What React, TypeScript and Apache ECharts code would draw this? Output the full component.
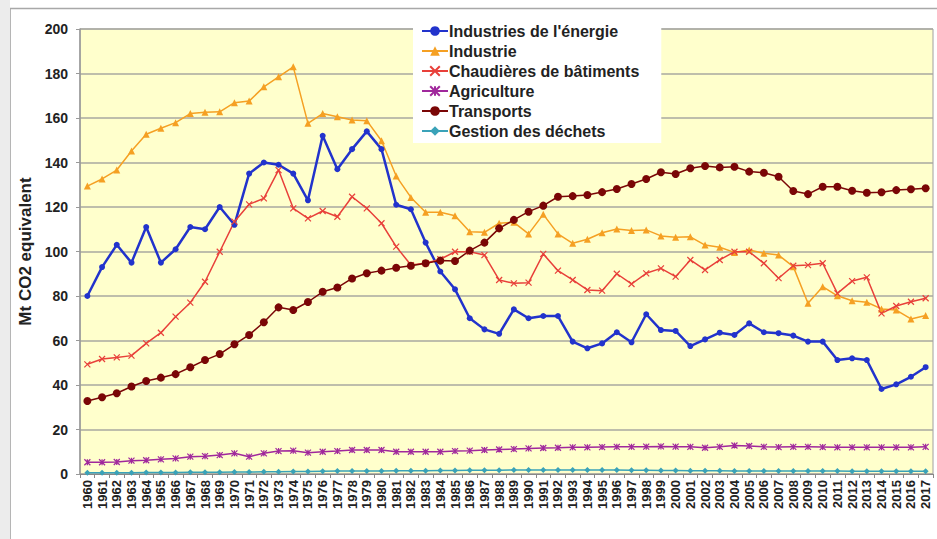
import React, { useEffect, useRef } from "react";
import * as echarts from "echarts";

const years: string[] = [];
for (let y = 1960; y <= 2017; y++) years.push(String(y));

const energie = [80, 93, 103, 95, 111, 95, 101, 111, 110, 120,
  112, 135, 140, 139, 135, 123, 152, 137, 146, 154,
  146, 121, 119, 104, 91, 83, 70, 65, 63, 74,
  70, 71, 71, 59.5, 56.5, 58.7, 63.7, 59.2, 71.8, 64.7,
  64.3, 57.5, 60.5, 63.5, 62.5, 67.7, 63.7, 63.3, 62.2, 59.5,
  59.5, 51.2, 52, 51.2, 38.2, 40.3, 43.7, 48];

const industrie = [129.4, 132.6, 136.6, 145.2, 152.7, 155.4, 157.9, 162, 162.6, 162.8,
  166.9, 167.6, 174, 178.5, 183, 157.6, 162, 160.6, 159.1, 158.8,
  149.8, 133.9, 124.3, 117.6, 117.6, 116.1, 108.9, 108.6, 112.7, 113.1,
  107.9, 116.7, 107.9, 103.7, 105.5, 108.4, 110.1, 109.4, 109.7, 107,
  106.4, 106.6, 102.9, 101.9, 99.6, 100.7, 99.2, 98.4, 93.2, 76.7,
  84.2, 80.1, 77.9, 77.2, 74.2, 73.7, 69.7, 71.2];

const chaudieres = [49.3, 51.7, 52.4, 53.2, 58.7, 63.5, 70.7, 77, 86.4, 99.9,
  113.4, 121.2, 123.9, 136.6, 119.4, 114.9, 118.2, 115.6, 124.6, 119.4,
  112.7, 102.2, 93.9, 94.7, 96.5, 99.9, 99.9, 98.4, 87.2, 85.7,
  86, 98.9, 91.4, 87.2, 82.7, 82.4, 90, 85.4, 90.2, 92.4,
  88.7, 96.2, 91.7, 96.2, 99.9, 99.9, 94.7, 88, 93.6, 93.9,
  94.7, 81.2, 86.7, 88.4, 72.2, 75.5, 77.4, 79];

const agriculture = [5.3, 5.3, 5.4, 6, 6.2, 6.6, 7, 7.8, 8, 8.5,
  9.3, 7.8, 9.3, 10.3, 10.5, 9.6, 10, 10.3, 10.8, 10.8,
  10.8, 10, 10, 10, 10, 10.3, 10.5, 10.8, 11, 11.2,
  11.5, 11.7, 11.8, 12, 12, 12.1, 12.2, 12.2, 12.3, 12.4,
  12.3, 12.2, 11.8, 12.2, 12.8, 12.6, 12.2, 12.1, 12.2, 12.2,
  12.1, 12, 12, 12, 12, 12, 12, 12.2];

const transports = [32.8, 34.5, 36.3, 39.3, 41.8, 43.3, 44.9, 48, 51.2, 53.9,
  58.3, 62.5, 68.2, 74.9, 73.7, 77.3, 81.9, 83.8, 87.9, 90.2,
  91.4, 92.7, 93.6, 94.7, 95.9, 95.7, 100.4, 104, 110.4, 114.2,
  117.9, 120.6, 124.6, 124.9, 125.4, 126.7, 128.1, 130.3, 132.6, 135.6,
  134.8, 137.4, 138.4, 137.8, 138.1, 135.9, 135.4, 133.6, 127.2, 125.8,
  129.1, 129.1, 127.3, 126.4, 126.6, 127.6, 128, 128.4];

const dechets = [0.6, 0.6, 0.6, 0.6, 0.7, 0.7, 0.7, 0.8, 0.8, 0.8,
  0.9, 0.9, 1, 1, 1.1, 1.1, 1.2, 1.3, 1.3, 1.4,
  1.4, 1.5, 1.5, 1.5, 1.6, 1.6, 1.7, 1.7, 1.7, 1.8,
  1.8, 1.8, 1.8, 1.8, 1.8, 1.8, 1.8, 1.7, 1.7, 1.6,
  1.6, 1.5, 1.5, 1.5, 1.4, 1.4, 1.4, 1.4, 1.3, 1.3,
  1.3, 1.3, 1.2, 1.2, 1.2, 1.2, 1.2, 1.2];

const yTicks = [0, 20, 40, 60, 80, 100, 120, 140, 160, 180, 200];

const FONT = 'Arial, "Liberation Sans", sans-serif';
const XMARK = "path://M0,0L10,10M10,0L0,10";
const STAR = "path://M0,0L10,10M10,0L0,10M5,0L5,10";

export default function App() {
  const ref = useRef<HTMLDivElement>(null);
  useEffect(() => {
    if (!ref.current) return;
    const chart = echarts.init(ref.current, undefined, { renderer: "svg" });
    const mk = (name: string, data: number[], color: string, symbol: string, size: number, width: number, stroked = false) => ({
      name,
      type: "line",
      data,
      symbol,
      symbolSize: size,
      showSymbol: true,
      lineStyle: { color, width },
      itemStyle: stroked
        ? { color, borderColor: color, borderWidth: 1.2 }
        : { color, borderColor: color, borderWidth: 0 },
      emphasis: { disabled: true },
    });
    chart.setOption({
      animation: false,
      backgroundColor: "#ffffff",
      graphic: [
        { type: "rect", shape: { x: 0, y: 0, width: 10, height: 539 }, style: { fill: "#ececec" }, silent: true },
        { type: "line", shape: { x1: 10.5, y1: 8, x2: 10.5, y2: 539 }, style: { stroke: "#b5b5b5", lineWidth: 1 }, silent: true },
        { type: "line", shape: { x1: 10, y1: 8.5, x2: 937, y2: 8.5 }, style: { stroke: "#a8a8a8", lineWidth: 1.5 }, silent: true },
      ],
      grid: {
        left: 80,
        right: 4,
        top: 29,
        bottom: 65,
        show: true,
        backgroundColor: "#FFFFCC",
        borderColor: "#a0a0a0",
        borderWidth: 1,
      },
      legend: {
        orient: "vertical",
        left: 413,
        top: 19,
        padding: [4, 22, 4, 8],
        backgroundColor: "#ffffff",
        itemWidth: 26,
        itemHeight: 12,
        itemGap: 4,
        textStyle: { fontFamily: FONT, fontWeight: "bold", fontSize: 16, color: "#222", lineHeight: 16, padding: [0, 0, 0, -4] },
        data: ["Industries de l'énergie", "Industrie", "Chaudières de bâtiments", "Agriculture", "Transports", "Gestion des déchets"],
      },
      xAxis: {
        type: "category",
        data: years,
        boundaryGap: true,
        axisLine: { lineStyle: { color: "#888", width: 1 } },
        axisTick: { show: true, alignWithLabel: false, length: 4, lineStyle: { color: "#888" } },
        axisLabel: {
          interval: 0,
          rotate: 90,
          margin: 6,
          fontFamily: FONT,
          fontWeight: "bold",
          fontSize: 13,
          color: "#222",
        },
      },
      yAxis: {
        type: "value",
        min: yTicks[0],
        max: yTicks[yTicks.length - 1],
        interval: 20,
        name: "Mt CO2 equivalent",
        nameLocation: "middle",
        nameRotate: 90,
        nameGap: 37,
        nameTextStyle: { fontFamily: FONT, fontWeight: "bold", fontSize: 17, color: "#222" },
        axisLine: { show: true, lineStyle: { color: "#999", width: 1.5 } },
        axisTick: { show: true, length: 4, lineStyle: { color: "#999" } },
        axisLabel: { margin: 12, fontFamily: FONT, fontWeight: "bold", fontSize: 14, color: "#222" },
        splitLine: { show: true, lineStyle: { color: "#a8a8a0", width: 1.5 } },
      },
      series: [
        mk("Industries de l'énergie", energie, "#2233cc", "circle", 6, 2.5),
        mk("Industrie", industrie, "#f5a023", "triangle", 7, 1.5),
        mk("Chaudières de bâtiments", chaudieres, "#e8403a", XMARK, 6, 1.5, true),
        mk("Agriculture", agriculture, "#a0289c", STAR, 6, 1.5, true),
        mk("Transports", transports, "#7a0606", "circle", 8, 1.5),
        mk("Gestion des déchets", dechets, "#3aa2b8", "diamond", 6, 1.5),
      ],
    });
    return () => chart.dispose();
  }, []);
  return <div ref={ref} style={{ position: "fixed", left: 0, top: 0, width: 937, height: 539 }} />;
}
